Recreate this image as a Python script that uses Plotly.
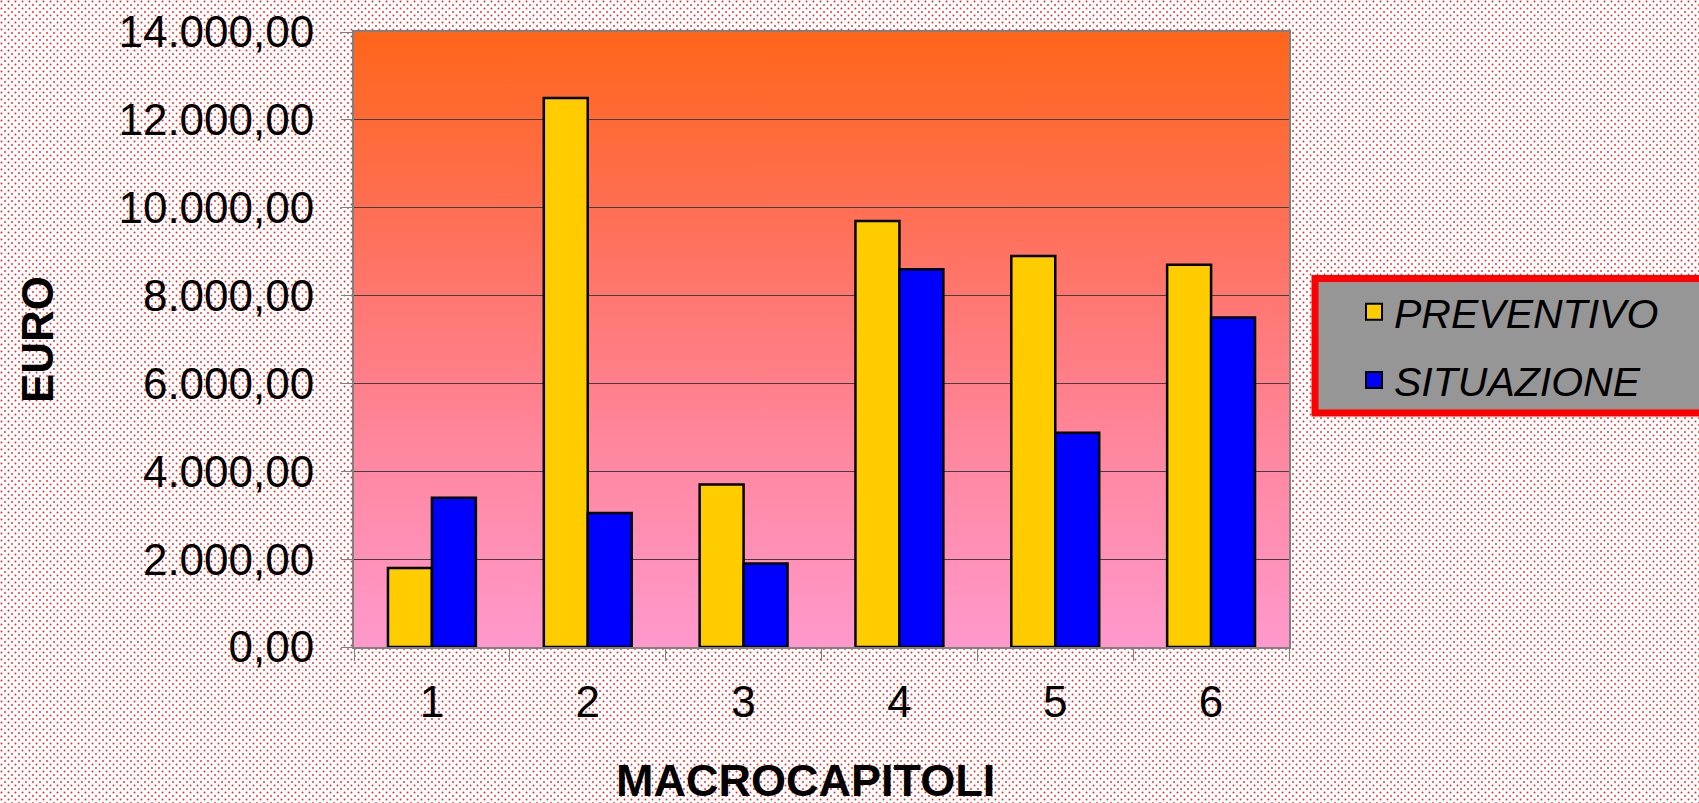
import base64
import plotly.graph_objects as go

categories = ["1", "2", "3", "4", "5", "6"]
preventivo = [1800, 12500, 3700, 9700, 8900, 8700]
situazione = [3400, 3050, 1900, 8600, 4880, 7500]
y_ticks = [0, 2000, 4000, 6000, 8000, 10000, 12000, 14000]

W, H = 1699, 803
ML, MR, MT, MB = 354, 410, 32, 156
PW, PH = W - ML - MR, H - MT - MB

def px2x(px):
    return (px - ML) / PW

def px2y(py):
    return (H - MB - py) / PH

def svg_uri(svg):
    return "data:image/svg+xml;base64," + base64.b64encode(svg.encode()).decode()

bg_svg = (
    f'<svg xmlns="http://www.w3.org/2000/svg" width="{W}" height="{H}">'
    '<defs><pattern id="p" width="7" height="7" patternUnits="userSpaceOnUse">'
    '<rect width="7" height="7" fill="#ffffff"/>'
    '<circle cx="1.5" cy="1.5" r="0.95" fill="#ff2020"/>'
    '<circle cx="5" cy="5" r="0.95" fill="#ff2020"/>'
    '</pattern></defs>'
    f'<rect width="{W}" height="{H}" fill="url(#p)"/></svg>'
)

grad_svg = (
    '<svg xmlns="http://www.w3.org/2000/svg" width="100" height="100" preserveAspectRatio="none">'
    '<defs><linearGradient id="g" x1="0" y1="0" x2="0" y2="1">'
    '<stop offset="0" stop-color="#FF661A"/>'
    '<stop offset="0.3" stop-color="#FF6F55"/>'
    '<stop offset="0.45" stop-color="#FF7874"/>'
    '<stop offset="0.7" stop-color="#FF88A2"/>'
    '<stop offset="1" stop-color="#FF99CC"/>'
    '</linearGradient></defs>'
    '<rect width="100" height="100" fill="url(#g)"/></svg>'
)

fig = go.Figure()
fig.add_trace(go.Bar(x=categories, y=preventivo, name="PREVENTIVO",
                     marker=dict(color="#FFCC00", line=dict(color="black", width=2.5)),
                     showlegend=False))
fig.add_trace(go.Bar(x=categories, y=situazione, name="SITUAZIONE",
                     marker=dict(color="#0000FF", line=dict(color="black", width=2.5)),
                     showlegend=False))
fig.add_trace(go.Scatter(x=[None], y=[None], mode="markers", name="PREVENTIVO",
                         legendgroup="a",
                         marker=dict(symbol="square", size=16, color="#FFCC00",
                                     line=dict(color="black", width=2))))
fig.add_trace(go.Scatter(x=[None], y=[None], mode="markers", name="SITUAZIONE",
                         legendgroup="b",
                         marker=dict(symbol="square", size=16, color="#0000FF",
                                     line=dict(color="black", width=2))))

fig.update_layout(
    width=W, height=H,
    margin=dict(l=ML, r=MR, t=MT, b=MB, autoexpand=False),
    paper_bgcolor="white",
    plot_bgcolor="rgba(0,0,0,0)",
    barmode="group",
    bargap=0.436,
    bargroupgap=0,
    separators=",.",
    font=dict(family="Liberation Sans, Arial, sans-serif", color="black"),
    images=[
        dict(source=svg_uri(bg_svg), xref="paper", yref="paper",
             x=-ML / PW, y=1 + MT / PH, sizex=W / PW, sizey=H / PH,
             sizing="stretch", layer="below", xanchor="left", yanchor="top"),
        dict(source=svg_uri(grad_svg), xref="paper", yref="paper",
             x=0, y=1, sizex=1, sizey=1,
             sizing="stretch", layer="below", xanchor="left", yanchor="top"),
    ],
    shapes=[
        dict(type="rect", xref="paper", yref="paper",
             x0=px2x(1315), x1=px2x(1720), y0=px2y(413), y1=px2y(278.5),
             line=dict(color="#FF0000", width=7), fillcolor="#969696", layer="above"),
    ],
    annotations=[
        dict(text="<b>MACROCAPITOLI</b>", xref="paper", yref="paper",
             x=px2x(805), y=px2y(781), xanchor="center", yanchor="middle",
             showarrow=False, font=dict(size=45)),
    ],
    legend=dict(
        x=px2x(1354), y=px2y(346), xanchor="left", yanchor="middle",
        bgcolor="rgba(0,0,0,0)", borderwidth=0,
        font=dict(size=41, style="italic", family="Liberation Sans, Arial, sans-serif"),
        traceorder="grouped", tracegroupgap=12,
    ),
    xaxis=dict(
        type="category",
        showline=True, linecolor="#808080", linewidth=2, mirror=True,
        ticks="outside", tickson="boundaries", ticklen=12, tickcolor="#808080", tickwidth=1,
        tickfont=dict(size=44),
        ticklabelstandoff=15,
        showgrid=False,
        automargin=False,
    ),
    yaxis=dict(
        range=[0, 14000], tickvals=y_ticks, tickformat=",.2f",
        showline=True, linecolor="#808080", linewidth=2, mirror=True,
        ticks="outside", ticklen=11, tickcolor="#808080", tickwidth=1,
        tickfont=dict(size=44),
        ticklabelstandoff=18,
        showgrid=True, gridcolor="#404040", gridwidth=1,
        zeroline=False,
        title=dict(text="<b>EURO</b>", font=dict(size=44), standoff=51),
        automargin=False,
    ),
)

fig.write_html(
    "out.html",
    config={"displayModeBar": False},
    post_script="document.body.style.margin='0';document.body.style.overflow='hidden';",
)
